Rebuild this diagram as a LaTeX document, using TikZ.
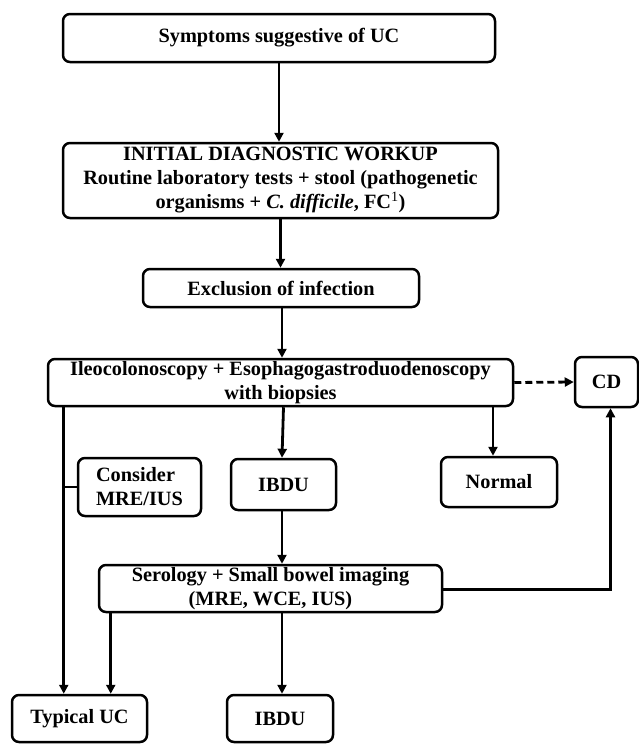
\documentclass[tikz,border=0pt]{standalone}
\usepackage{fontspec}
\setmainfont{Liberation Serif}
\usetikzlibrary{arrows.meta}
\begin{document}
\begin{tikzpicture}[x=1pt,y=-1pt]
  \tikzstyle{box}=[draw,rounded corners=7pt,line width=2.5pt,inner sep=0pt,align=center,
    font=\fontsize{20.3}{24}\selectfont\bfseries]
  \tikzstyle{line}=[line width=2.8pt]
  \tikzstyle{arrow}=[line, -{Triangle[length=9pt,width=9pt]}]
  \useasboundingbox (0,0) rectangle (639,744);
  \node[box,minimum width=432,minimum height=48] (symp) at (279,38) {Symptoms suggestive of UC};
  \node[box,minimum width=435,minimum height=75] (init) at (280.5,180.5)
    {INITIAL DIAGNOSTIC WORKUP\\Routine laboratory tests + stool (pathogenetic\\
     organisms + \textit{C. difficile}, FC\textsuperscript{\mdseries 1})};
  \node[box,minimum width=276,minimum height=38] (excl) at (281,288) {Exclusion of infection};
  \node[box,minimum width=465,minimum height=47] (ileo) at (280.5,382.5)
    {Ileocolonoscopy + Esophagogastroduodenoscopy\\with biopsies};
  \node[box,minimum width=63,minimum height=50] (cd) at (606.5,382) {CD};
  \node[box,minimum width=123,minimum height=58,align=left] (cons) at (139.5,487) {Consider\\MRE/IUS};
  \node[box,minimum width=105,minimum height=51] (ibdu) at (283.5,484.5) {IBDU};
  \node[box,minimum width=116,minimum height=50] (norm) at (499,482) {Normal};
  \node[box,minimum width=343,minimum height=47] (sero) at (270.5,588.5)
    {Serology + Small bowel imaging\\(MRE, WCE, IUS)};
  \node[box,minimum width=135,minimum height=47] (typ) at (79.5,718.5) {Typical UC};
  \node[box,minimum width=106,minimum height=47] (ibdutwo) at (280,718.5) {IBDU};
  % main path
  \draw[arrow] (symp.south) -- (symp.south |- init.north);
  \draw[arrow] (init.south) -- (init.south |- excl.north);
  \draw[arrow] ([xshift=1pt]excl.south) -- ([xshift=1pt]excl.south |- ileo.north);
  \draw[arrow,dash pattern=on 7pt off 4pt] (ileo.east) -- (cd.west);
  \draw[arrow] (ileo.south -| ibdu.north) -- ([xshift=-1.5pt]ibdu.north);
  \draw[arrow] ([xshift=-6pt]ileo.south -| norm.north) -- ([xshift=-6pt]norm.north);
  \draw[arrow] ([xshift=-1.5pt]ibdu.south) -- ([xshift=-1.5pt]ibdu.south |- sero.north);
  % left branch
  \draw[arrow] ([xshift=17pt]ileo.south west) -- ([xshift=17pt]ileo.south west |- typ.north);
  \draw[line] ([xshift=17pt]ileo.south west |- cons.west) -- (cons.west);
  \draw[arrow] ([xshift=13pt]sero.south west) -- ([xshift=13pt]sero.south west |- typ.north);
  \draw[arrow] ([xshift=11.5pt]sero.south) -- ([xshift=11.5pt]sero.south |- ibdutwo.north);
  % back to CD
  \draw[arrow] ([yshift=-1pt]sero.east) -| ([xshift=4pt]cd.south);
\end{tikzpicture}
\end{document}
